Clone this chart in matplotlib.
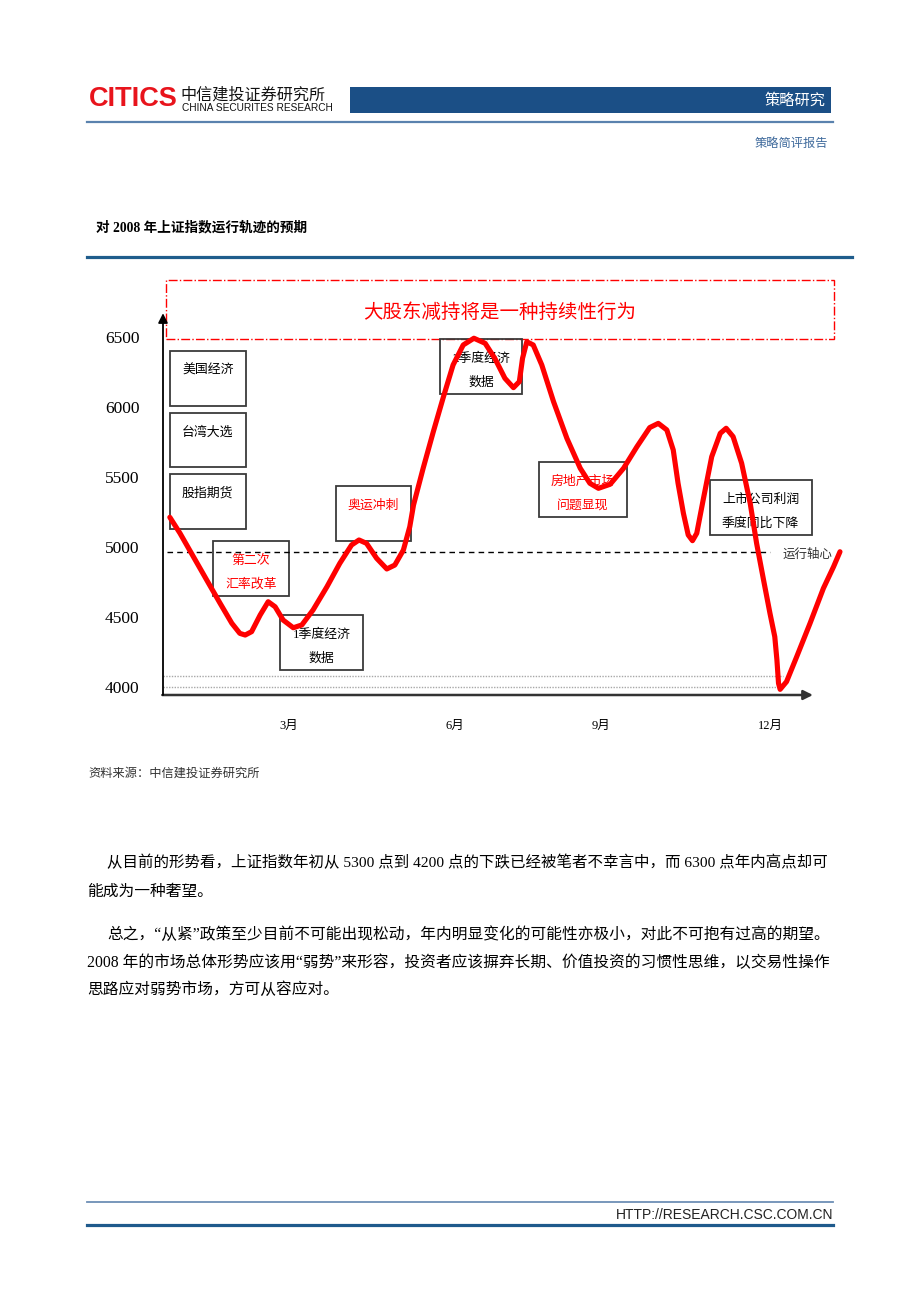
import matplotlib
matplotlib.use("Agg")
import matplotlib.pyplot as plt
from matplotlib.patches import Rectangle
from matplotlib.lines import Line2D

# Page: CITICS strategy note, chart of the expected 2008 SSE index path

plt.rcParams['font.family'] = ['Liberation Serif', 'Noto Sans CJK SC']

W, H = 920, 1302

# Expected trajectory (month position, index level)
months = [0.77, 0.96, 1.21, 1.46, 1.71, 1.93, 2.08, 2.18, 2.30, 2.46, 2.61, 2.74,
          2.89, 3.08, 3.24, 3.45, 3.71, 3.95, 4.17, 4.31, 4.45, 4.64, 4.83, 4.98,
          5.14, 5.26, 5.33, 5.51, 5.70, 5.89, 6.07, 6.26, 6.46, 6.67, 6.85, 7.04,
          7.20, 7.31, 7.37, 7.45, 7.57, 7.73, 7.95, 8.20, 8.45, 8.63, 8.79, 9.01,
          9.26, 9.51, 9.75, 9.91, 10.07, 10.19, 10.28, 10.38, 10.47, 10.55, 10.63,
          10.75, 10.91, 11.07, 11.18, 11.31, 11.47, 11.63, 11.75, 11.88, 12.00,
          12.09, 12.13, 12.16, 12.19, 12.31, 12.50, 12.75, 13.00, 13.19, 13.31]
index_level = [5210, 5096, 4929, 4762, 4596, 4453, 4381, 4369, 4393, 4512, 4607, 4571,
               4476, 4421, 4441, 4548, 4714, 4881, 5012, 5048, 5024, 4917, 4841, 4869,
               4976, 5143, 5298, 5560, 5821, 6071, 6298, 6441, 6489, 6453, 6346, 6203,
               6136, 6179, 6346, 6464, 6441, 6298, 6036, 5774, 5560, 5453, 5417, 5446,
               5560, 5714, 5851, 5881, 5834, 5691, 5453, 5239, 5084, 5043, 5096,
               5334, 5643, 5810, 5846, 5786, 5596, 5310, 5024, 4762, 4524,
               4357, 4191, 4024, 3981, 4036, 4214, 4453, 4703, 4857, 4964]

axis_level = 4960          # 运行轴心
floor_levels = [4076, 4000]

y_ticks = [4000, 4500, 5000, 5500, 6000, 6500]
x_tick_pos = [3.0, 6.1, 8.84, 12.0]
x_tick_labels = ['3月', '6月', '9月', '12月']

headline = '大股东减持将是一种持续性行为'

# event boxes: (left, right, top, bottom, text lines, colour)
events = [
    (0.77, 2.19, 6398, 6005, ['美国经济'], 'black'),
    (0.77, 2.19, 5957, 5567, ['台湾大选'], 'black'),
    (0.77, 2.19, 5521, 5129, ['股指期货'], 'black'),
    (1.58, 3.00, 5039, 4648, ['第二次', '汇率改革'], 'red'),
    (2.84, 4.38, 4514, 4121, ['1季度经济', '数据'], 'black'),
    (3.87, 5.29, 5434, 5041, ['奥运冲刺'], 'red'),
    (5.83, 7.36, 6486, 6091, ['2季度经济', '数据'], 'black'),
    (7.67, 9.32, 5607, 5214, ['房地产市场', '问题显现'], 'red'),
    (10.87, 12.78, 5476, 5084, ['上市公司利润', '季度同比下降'], 'black'),
]

para_lines = [
    '从目前的形势看，上证指数年初从 5300 点到 4200 点的下跌已经被笔者不幸言中，而 6300 点年内高点却可',
    '能成为一种奢望。',
    '总之，“从紧”政策至少目前不可能出现松动，年内明显变化的可能性亦极小，对此不可抱有过高的期望。',
    '2008 年的市场总体形势应该用“弱势”来形容，投资者应该摒弃长期、价值投资的习惯性思维，以交易性操作',
    '思路应对弱势市场，方可从容应对。',
]
para_x = [107, 87, 107, 87, 87]
para_y = [862, 892, 935, 963, 990]
para_size = [11.15, 11.3, 11.3, 11.3, 11.3]


def fx(px):
    return px / W


def fy(py):
    return 1 - py / H


fig = plt.figure(figsize=(9.2, 13.02), dpi=100)
fig.patch.set_facecolor('white')


def hline(y, x0, x1, color, lw):
    fig.add_artist(Line2D([fx(x0), fx(x1)], [fy(y), fy(y)], color=color, lw=lw))


# ---- header ----
fig.text(fx(89), fy(99), 'CITICS', color='#e8141c', fontsize=19.5, fontweight='bold',
         family=['Liberation Sans'], ha='left', va='center')
fig.text(fx(180), fy(95), '中信建投证券研究所', fontsize=11.6, family=['Noto Sans CJK SC'],
         ha='left', va='center', color='#111111')
fig.text(fx(182), fy(108), 'CHINA SECURITES RESEARCH', fontsize=7.3, family=['Liberation Sans'],
         ha='left', va='center', color='#111111')
fig.add_artist(Rectangle((fx(350), fy(113)), fx(831) - fx(350), fy(87) - fy(113),
                         transform=fig.transFigure, facecolor='#1b4f86', edgecolor='none'))
fig.text(fx(826), fy(100), '策略研究', color='white', fontsize=11, family=['Noto Sans CJK SC'],
         ha='right', va='center')
hline(122, 87, 833, '#5a82ae', 1.6)
fig.text(fx(828), fy(143), '策略简评报告', color='#3f6a9c', fontsize=8.8,
         family=['Noto Sans CJK SC'], ha='right', va='center')

# ---- chart title ----
fig.text(fx(96), fy(228), '对 2008 年上证指数运行轨迹的预期', fontsize=9.8, fontweight='bold',
         ha='left', va='center')
hline(257, 87, 852, '#1f5d8c', 2.3)

# ---- chart ----
ax_l, ax_r, ax_t, ax_b = 163, 845, 280, 695
ax = fig.add_axes([fx(ax_l), fy(ax_b), fx(ax_r) - fx(ax_l), fy(ax_t) - fy(ax_b)])
ax.set_facecolor('none')
ax.set_xlim(0.642, 13.404)
ax.set_ylim(3940.7, 6905)
for s in ax.spines.values():
    s.set_visible(False)

ax.set_yticks(y_ticks)
ax.set_yticklabels([str(v) for v in y_ticks], fontsize=12.5, family=['Liberation Serif'])
ax.tick_params(axis='y', length=0, pad=17)
ax.set_xticks(x_tick_pos)
ax.set_xticklabels(x_tick_labels, fontsize=9)
ax.tick_params(axis='x', length=0, pad=18)

# axis arrows
ax.annotate('', xy=(0.953, 0), xytext=(-0.001, 0), xycoords='axes fraction',
            arrowprops=dict(arrowstyle='-|>', color='#333333', lw=1.8,
                            mutation_scale=14, shrinkA=0, shrinkB=0))
ax.annotate('', xy=(0, 0.92), xytext=(0, 0), xycoords='axes fraction',
            arrowprops=dict(arrowstyle='-|>', color='black', lw=1.3,
                            mutation_scale=14, shrinkA=0, shrinkB=0))

# bottom dotted guides
for lv in floor_levels:
    ax.hlines(lv, 0.642, 12.25, colors='#a8a8a8', linestyles=(0, (1, 1)), lw=1)

# 运行轴心
ax.hlines(axis_level, 0.72, 12.0, colors='black', linestyles=(0, (4, 3)), lw=1, zorder=3)
ax.text(12.24, axis_level - 20, '运行轴心', fontsize=9, color='#333333', ha='left', va='center')

# headline box
ax.add_patch(Rectangle((0.70, 6484), 13.20 - 0.70, 6905 - 6484, fill=False,
                       edgecolor='red', lw=1, linestyle='-.', clip_on=False))
ax.text(6.95, 6676, headline, color='red', fontsize=14, ha='center', va='center')

# event boxes
for x0, x1, top, bottom, lines, col in events:
    ax.add_patch(Rectangle((x0, bottom), x1 - x0, top - bottom, fill=False,
                           edgecolor='#3a3a3a', lw=1.3, zorder=2))
    for i, t in enumerate(lines):
        ax.annotate(t, xy=((x0 + x1) / 2, top), xytext=(0, -14.4 - 17.0 * i),
                    textcoords='offset points', ha='center', va='center',
                    fontsize=9.3, color=col, zorder=2)

# trajectory
ax.plot(months, index_level, color='#ff0000', lw=3.7, solid_joinstyle='round',
        solid_capstyle='round', zorder=5, clip_on=False)

# ---- source ----
fig.text(fx(88), fy(774), '资料来源：中信建投证券研究所', fontsize=8.8, style='italic',
         color='#333333', ha='left', va='center')

# ---- body text ----
for t, x, y, s in zip(para_lines, para_x, para_y, para_size):
    fig.text(fx(x), fy(y), t, fontsize=s, ha='left', va='center', color='black')

# ---- footer ----
hline(1202, 87, 833, '#6d8fb5', 1.3)
fig.text(fx(833), fy(1215), 'HTTP://RESEARCH.CSC.COM.CN', fontsize=10, family=['Liberation Sans'],
         ha='right', va='center', color='#222222')
hline(1225, 87, 833, '#1f5a8c', 2.3)

fig.savefig('out.png', dpi=100)
